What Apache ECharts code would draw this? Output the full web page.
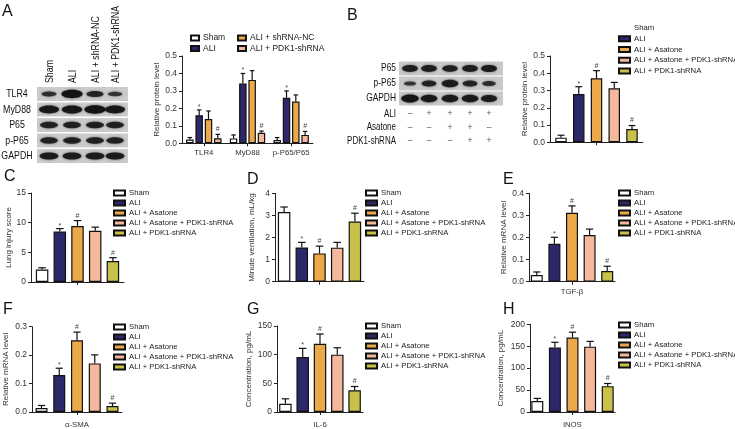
<!DOCTYPE html>
<html><head><meta charset="utf-8">
<script src="https://cdn.jsdelivr.net/npm/echarts@6/dist/echarts.min.js"></script>
<style>html,body{margin:0;padding:0;background:#fff}#c{width:735px;height:429px}</style>
</head><body><div id="c"></div>
<script>
const FONT = '"Liberation Sans",Arial,Helvetica,sans-serif';
const FONT_REG = FONT;

// ---------- Panel A data ----------
const aCats = ['TLR4', 'MyD88', 'p-P65/P65'];
const aGroups = ['Sham', 'ALI', 'ALI + shRNA-NC', 'ALI + PDK1-shRNA'];
const aSham = [0.022, 0.028, 0.019];
const aShamErr = [0.011, 0.020, 0.014];
const aALI = [0.161, 0.343, 0.261];
const aALIErr = [0.030, 0.057, 0.039];
const aNC = [0.139, 0.363, 0.239];
const aNCErr = [0.046, 0.053, 0.038];
const aPDK = [0.029, 0.060, 0.048];
const aPDKErr = [0.022, 0.010, 0.020];
const aMarks = ['', '*', '', '#'];

// ---------- Panels B-H ----------
const groups5 = ['Sham', 'ALI', 'ALI + Asatone', 'ALI + Asatone + PDK1-shRNA', 'ALI + PDK1-shRNA'];
const marks5 = ['', '*', '#', '', '#'];
const bMean = [0.027, 0.280, 0.371, 0.313, 0.077];
const bErr  = [0.014, 0.042, 0.044, 0.034, 0.020];
const cMean = [2.1, 8.5, 9.45, 8.65, 3.55];
const cErr  = [0.3, 0.5, 0.9, 0.6, 0.55];
const dMean = [3.15, 1.55, 1.28, 1.54, 2.72];
const dErr  = [0.23, 0.23, 0.33, 0.24, 0.38];
const eMean = [0.030, 0.172, 0.312, 0.211, 0.048];
const eErr  = [0.014, 0.029, 0.031, 0.027, 0.022];
const fMean = [0.014, 0.130, 0.252, 0.171, 0.021];
const fErr  = [0.009, 0.024, 0.029, 0.030, 0.010];
const gMean = [14.5, 96, 119, 100, 38];
const gErr  = [8.5, 15, 17, 12, 6.5];
const hMean = [25, 147, 170, 149, 59];
const hErr  = [6, 12, 12, 12, 6];

// ---------- Western blots ----------
const blotARows = ['TLR4', 'MyD88', 'P65', 'p-P65', 'GAPDH'];
const blotALanes = ['Sham', 'ALI', 'ALI + shRNA-NC', 'ALI + PDK1-shRNA'];
const blotABands = [
  [0.45, 1.0, 0.65, 0.4],
  [0.9, 0.95, 1.0, 0.9],
  [0.7, 0.7, 0.72, 0.7],
  [0.68, 0.7, 0.7, 0.68],
  [0.8, 0.8, 0.8, 0.8]
];
const blotBRows = ['P65', 'p-P65', 'GAPDH'];
const blotBBands = [
  [0.75, 0.75, 0.72, 0.75, 0.78],
  [0.35, 0.65, 0.85, 0.65, 0.5],
  [0.95, 0.85, 0.85, 0.85, 0.8]
];
const blotBTreat = ['ALI', 'Asatone', 'PDK1-shRNA'];
const blotBSigns = [
  ['\u2013', '+', '+', '+', '+'],
  ['\u2013', '\u2013', '+', '+', '\u2013'],
  ['\u2013', '\u2013', '\u2013', '+', '+']
];

// ---------- styles ----------
const cWhite = '#ffffff', cNavy = '#2c2869', cOrange = '#eca94a', cSalmon = '#f5b89c', cOlive = '#c9c24a';
const aColors = [cWhite, cNavy, cOrange, cSalmon];
const colors5 = [cWhite, cNavy, cOrange, cSalmon, cOlive];

function single(arr) { return arr.map(v => [v]); }

const panels = [
  {key:'A', grid:{left:182, top:56, width:131, height:87.3}, cats:aCats, names:aGroups, colors:aColors,
   means:[aSham, aALI, aNC, aPDK], errs:[aShamErr, aALIErr, aNCErr, aPDKErr], marks:aMarks,
   max:0.5, interval:0.1, dec:1, yName:'Relative protein level', nameGap:21, barW:7.5, gapPx:1.8,
   xLabel:true, xMargin:6, iconW:8, legFont:8.5,
   legends:[{left:190, top:33, idx:[0,1], gap:0.5}, {left:237, top:33, idx:[2,3], gap:0.5}]},
  {key:'B', grid:{left:550, top:56, width:93, height:86.3}, cats:[''], names:groups5, colors:colors5,
   means:single(bMean), errs:single(bErr), marks:marks5,
   max:0.5, interval:0.1, dec:1, yName:'Relative protein level', nameGap:18, barW:11.5, gapPx:6.25,
   xLabel:false, xMargin:5, iconW:11, hideShamIcon:true, legFont:7.7,
   legends:[{left:618, top:23, idx:[0,1,2,3,4], gap:0.75}]},
  {key:'C', grid:{left:31, top:193, width:93, height:89}, cats:[''], names:groups5, colors:colors5,
   means:single(cMean), errs:single(cErr), marks:marks5,
   max:15, interval:5, dec:0, yName:'Lung injury score', nameGap:18, barW:12.5, gapPx:5.2,
   xLabel:false, xMargin:5, iconW:11, legFont:7.7,
   legends:[{left:113, top:188, idx:[0,1,2,3,4], gap:0}]},
  {key:'D', grid:{left:275, top:193.3, width:89, height:88.4}, cats:[''], names:groups5, colors:colors5,
   means:single(dMean), errs:single(dErr), marks:marks5,
   max:4, interval:1, dec:0, yName:'Minute ventilation, mL/kg', nameGap:19, barW:12.5, gapPx:5.2,
   xLabel:false, xMargin:5, iconW:11, legFont:7.7,
   legends:[{left:365, top:188, idx:[0,1,2,3,4], gap:0}]},
  {key:'E', grid:{left:529, top:193.3, width:86, height:88.4}, cats:['TGF-\u03b2'], names:groups5, colors:colors5,
   means:single(eMean), errs:single(eErr), marks:marks5,
   max:0.4, interval:0.1, dec:1, yName:'Relative mRNA level', nameGap:21, barW:12, gapPx:5.6,
   xLabel:true, xMargin:6, iconW:11, legFont:7.7,
   legends:[{left:618, top:188, idx:[0,1,2,3,4], gap:0}]},
  {key:'F', grid:{left:32, top:326.7, width:90, height:86.6}, cats:['\u03b1-SMA'], names:groups5, colors:colors5,
   means:single(fMean), errs:single(fErr), marks:marks5,
   max:0.3, interval:0.1, dec:1, yName:'Relative mRNA level', nameGap:22, barW:12, gapPx:5.75,
   xLabel:true, xMargin:9, iconW:11, legFont:7.7,
   legends:[{left:113, top:322, idx:[0,1,2,3,4], gap:0}]},
  {key:'G', grid:{left:277, top:326, width:86, height:86.7}, cats:['IL-6'], names:groups5, colors:colors5,
   means:single(gMean), errs:single(gErr), marks:marks5,
   max:150, interval:50, dec:0, yName:'Concentration, pg/mL', nameGap:24, barW:12.5, gapPx:4.8,
   xLabel:true, xMargin:9, iconW:11, legFont:7.7,
   legends:[{left:365, top:321, idx:[0,1,2,3,4], gap:0}]},
  {key:'H', grid:{left:530, top:324.3, width:85, height:88.4}, cats:['iNOS'], names:groups5, colors:colors5,
   means:single(hMean), errs:single(hErr), marks:marks5,
   max:200, interval:50, dec:0, yName:'Concentration, pg/mL', nameGap:25, barW:12, gapPx:5.6,
   xLabel:true, xMargin:9, iconW:11, legFont:7.7,
   legends:[{left:618, top:320, idx:[0,1,2,3,4], gap:0}]}
];

const option = {animation:false, backgroundColor:'#fff', grid:[], xAxis:[], yAxis:[], series:[], legend:[], graphic:{elements:[]}};
const AX = '#222';

panels.forEach((p, k) => {
  option.grid.push(Object.assign({containLabel:false}, p.grid));
  option.xAxis.push({
    type:'category', gridIndex:k, data:p.cats,
    axisLine:{lineStyle:{color:AX, width:1}},
    axisTick:{show:true, alignWithLabel:true, interval:0, length:3, lineStyle:{color:AX}},
    axisLabel:{show:p.xLabel, interval:0, hideOverlap:false, fontSize:7.8, color:'#333', fontFamily:FONT, margin:p.xMargin}
  });
  option.yAxis.push({
    type:'value', gridIndex:k, min:0, max:p.max, interval:p.interval,
    name:p.yName, nameLocation:'middle', nameGap:p.nameGap,
    nameTextStyle:{fontSize:8, color:'#333', fontFamily:FONT},
    axisLine:{show:true, lineStyle:{color:AX, width:1}},
    axisTick:{show:true, length:3, lineStyle:{color:AX}},
    splitLine:{show:false},
    axisLabel:{fontSize:8.5, color:'#333', fontFamily:FONT, margin:5, formatter:v => v.toFixed(p.dec)}
  });
  const n = p.names.length;
  p.names.forEach((nm, s) => {
    option.series.push({
      name: nm + '|' + p.key, type:'bar', xAxisIndex:k, yAxisIndex:k,
      data: p.means[s], barWidth:p.barW, barGap:(p.gapPx / p.barW * 100).toFixed(1) + '%',
      itemStyle:{color:p.colors[s], borderColor:'#111', borderWidth:1.2},
      emphasis:{disabled:true}, silent:true
    });
  });
  const errData = [];
  p.names.forEach((nm, s) => p.cats.forEach((c, ci) => {
    errData.push([ci, s, p.means[s][ci] + p.errs[s][ci], p.means[s][ci]]);
  }));
  option.series.push({
    type:'custom', xAxisIndex:k, yAxisIndex:k, data:errData, silent:true, z:3,
    encode:{x:0, y:2},
    renderItem:(params, api) => {
      const ci = api.value(0), s = api.value(1);
      const top = api.coord([ci, api.value(2)]);
      const base = api.coord([ci, api.value(3)]);
      const total = n * p.barW + (n - 1) * p.gapPx;
      const x = top[0] - total / 2 + s * (p.barW + p.gapPx) + p.barW / 2;
      const cw = p.barW * 0.3;
      const children = [
        {type:'line', shape:{x1:x, y1:base[1], x2:x, y2:top[1]}, style:{stroke:'#111', lineWidth:1.2}},
        {type:'line', shape:{x1:x - cw, y1:top[1], x2:x + cw, y2:top[1]}, style:{stroke:'#111', lineWidth:1.2}}
      ];
      const m = p.marks[s];
      if (m) children.push({type:'text', style:{text:m, x:x, y:top[1] - (m === '*' ? 3 : 5),
        align:'center', verticalAlign:'middle', fontSize:7, fill:'#444', fontFamily:FONT_REG}});
      return {type:'group', children};
    }
  });
  p.legends.forEach(L => {
    option.legend.push({
      orient:'vertical', left:L.left, top:L.top, padding:0, itemGap:L.gap,
      itemWidth:p.iconW, itemHeight:5, icon:'rect', selectedMode:false,
      textStyle:{fontSize:p.legFont, color:'#222', fontFamily:FONT, lineHeight:10, padding:[0,0,0,-1]},
      formatter:nm => nm.split('|')[0],
      data: L.idx.map(i => {
        const d = {name: p.names[i] + '|' + p.key};
        if (p.hideShamIcon && i === 0) d.itemStyle = {opacity:0};
        return d;
      })
    });
  });
});

// ---------- graphics: panel letters ----------
const G = option.graphic.elements;
const letters = [['A', 2, 4], ['B', 347, 8], ['C', 4, 169], ['D', 247, 172], ['E', 503, 172], ['F', 3, 302], ['G', 247, 302], ['H', 503, 302]];
letters.forEach(([t, x, y]) => G.push({type:'text', left:x, top:y, style:{text:t, fontSize:16, fill:'#111', fontFamily:FONT_REG}}));

const SX = 0.8; // condensed look for blot labels
// ---------- blot A ----------
const aRowTop = [87, 102.5, 118, 133.5, 149];
const aLaneX = [49, 72, 95, 115];
const rowH = 14;
blotARows.forEach((r, i) => {
  G.push({type:'rect', shape:{x:37, y:aRowTop[i], width:91, height:rowH}, style:{fill:'#cbcbcb'}});
  G.push({type:'text', x:17, y:aRowTop[i] + rowH / 2, scaleX:SX, style:{text:r, align:'center', verticalAlign:'middle', fontSize:11, fill:'#111', fontFamily:FONT}});
  blotABands[i].forEach((v, j) => {
    G.push({type:'ellipse', shape:{cx:aLaneX[j], cy:aRowTop[i] + rowH / 2, rx:5 + 5.5 * v, ry:1 + 3.2 * v},
      style:{fill:'rgba(20,20,20,' + (0.55 + 0.45 * v) + ')', shadowBlur:2.5, shadowColor:'rgba(0,0,0,0.6)'}});
  });
});
blotALanes.forEach((l, j) => {
  G.push({type:'text', x:aLaneX[j] + 1, y:83, rotation:Math.PI / 2, scaleX:SX,
    style:{text:l, align:'left', verticalAlign:'middle', fontSize:11, fill:'#111', fontFamily:FONT}});
});

// ---------- blot B ----------
const bRowTop = [61.5, 76.5, 91.5];
const bLaneX = [410, 429, 450, 470, 489];
blotBRows.forEach((r, i) => {
  G.push({type:'rect', shape:{x:399, y:bRowTop[i], width:104, height:rowH}, style:{fill:'#c9c9c9'}});
  G.push({type:'text', x:396, y:bRowTop[i] + rowH / 2, scaleX:SX, style:{text:r, align:'right', verticalAlign:'middle', fontSize:10.5, fill:'#111', fontFamily:FONT}});
  blotBBands[i].forEach((v, j) => {
    G.push({type:'ellipse', shape:{cx:bLaneX[j], cy:bRowTop[i] + rowH / 2, rx:4.5 + 4.5 * v, ry:1 + 3.2 * v},
      style:{fill:'rgba(20,20,20,' + (0.55 + 0.45 * v) + ')', shadowBlur:2.5, shadowColor:'rgba(0,0,0,0.6)'}});
  });
});
const signY = [114, 127.5, 141];
blotBTreat.forEach((t, i) => {
  G.push({type:'text', x:396, y:signY[i], scaleX:SX, style:{text:t, align:'right', verticalAlign:'middle', fontSize:10, fill:'#111', fontFamily:FONT}});
  blotBSigns[i].forEach((sg, j) => {
    G.push({type:'text', x:bLaneX[j], y:signY[i], style:{text:sg, align:'center', verticalAlign:'middle', fontSize:8.5, fill:'#555', fontFamily:FONT_REG}});
  });
});

const chart = echarts.init(document.getElementById('c'), null, {renderer:'canvas'});
chart.setOption(option);
</script>
</body></html>
